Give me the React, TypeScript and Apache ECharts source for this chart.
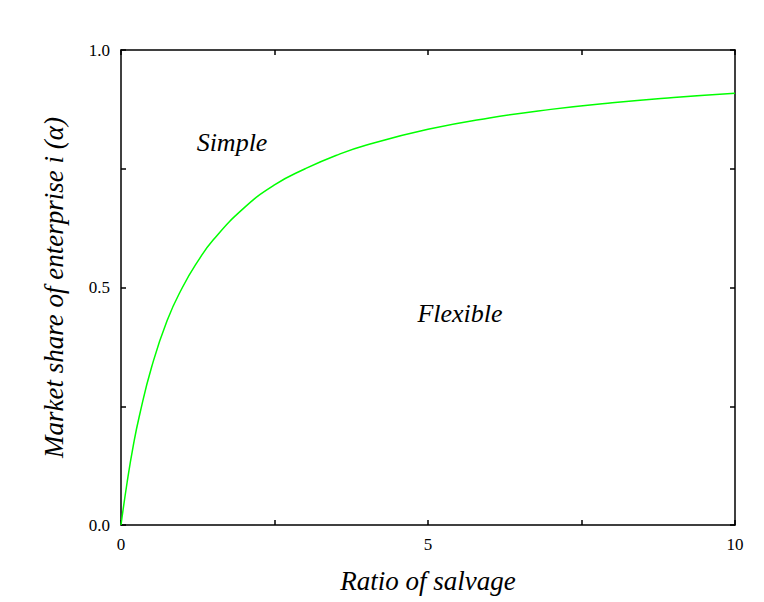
import React, { useEffect, useRef } from "react";
import * as echarts from "echarts";

const xValues = [0, 0.1, 0.2, 0.3, 0.5, 0.75, 1, 1.25, 1.5, 2, 2.5, 3, 3.5, 4, 5, 6, 7, 8, 9, 10];
const yValues = [0, 0.09, 0.167, 0.23, 0.333, 0.43, 0.5, 0.555, 0.6, 0.667, 0.716, 0.75, 0.778, 0.8, 0.833, 0.857, 0.875, 0.889, 0.9, 0.909];
const xTitle = "Ratio of salvage";
const yTitle = "Market share of enterprise i (α)";
const regionLabels = [
  { text: "Simple", x: 232, y: 142 },
  { text: "Flexible", x: 460, y: 313 },
];

const FONT = "'Liberation Serif', 'Times New Roman', serif";

function axisLine() {
  return { show: true, onZero: false, lineStyle: { color: "#000", width: 1.5 } };
}
function axisTick() {
  return { show: true, inside: true, length: 5, lineStyle: { color: "#000", width: 1.5 } };
}

export default function App() {
  const ref = useRef<HTMLDivElement>(null);
  useEffect(() => {
    if (!ref.current) return;
    const chart = echarts.init(ref.current, null, { renderer: "svg" });
    chart.setOption({
      animation: false,
      backgroundColor: "#fff",
      grid: { left: 121, right: 29, top: 50, bottom: 77, containLabel: false, outerBoundsMode: "none" },
      xAxis: [
        {
          type: "value",
          min: 0,
          max: 10,
          interval: 2.5,
          position: "bottom",
          axisLine: axisLine(),
          axisTick: axisTick(),
          splitLine: { show: false },
          axisLabel: {
            margin: 11,
            fontFamily: FONT,
            fontSize: 17,
            color: "#000",
            formatter: (v: number) => (v % 5 === 0 ? String(v) : ""),
          },
          name: xTitle,
          nameLocation: "middle",
          nameGap: 42,
          nameTextStyle: { fontFamily: FONT, fontSize: 27, fontStyle: "italic", color: "#000" },
        },
        {
          type: "value",
          min: 0,
          max: 10,
          interval: 2.5,
          position: "top",
          axisLine: axisLine(),
          axisTick: axisTick(),
          splitLine: { show: false },
          axisLabel: { show: false },
        },
      ],
      yAxis: [
        {
          type: "value",
          min: 0,
          max: 1,
          interval: 0.25,
          position: "left",
          axisLine: axisLine(),
          axisTick: axisTick(),
          splitLine: { show: false },
          axisLabel: {
            margin: 11,
            fontFamily: FONT,
            fontSize: 17,
            color: "#000",
            formatter: (v: number) => (Math.abs(v * 2 - Math.round(v * 2)) < 1e-9 ? v.toFixed(1) : ""),
          },
          name: yTitle,
          nameLocation: "middle",
          nameGap: 54,
          nameTextStyle: { fontFamily: FONT, fontSize: 27, fontStyle: "italic", color: "#000" },
        },
        {
          type: "value",
          min: 0,
          max: 1,
          interval: 0.25,
          position: "right",
          axisLine: axisLine(),
          axisTick: axisTick(),
          splitLine: { show: false },
          axisLabel: { show: false },
        },
      ],
      series: [
        {
          type: "line",
          xAxisIndex: 0,
          yAxisIndex: 0,
          data: xValues.map((x, i) => [x, yValues[i]]),
          smooth: true,
          showSymbol: false,
          lineStyle: { color: "#00ff00", width: 1.5 },
        },
      ],
      graphic: regionLabels.map((l) => ({
        type: "text",
        x: l.x,
        y: l.y,
        style: {
          text: l.text,
          font: `italic 26px ${FONT}`,
          fill: "#000",
          align: "center",
          verticalAlign: "middle",
        },
      })),
    });
    return () => chart.dispose();
  }, []);
  return (
    <div
      ref={ref}
      style={{ position: "fixed", left: 0, top: 0, width: 764, height: 602, background: "#fff" }}
    />
  );
}
